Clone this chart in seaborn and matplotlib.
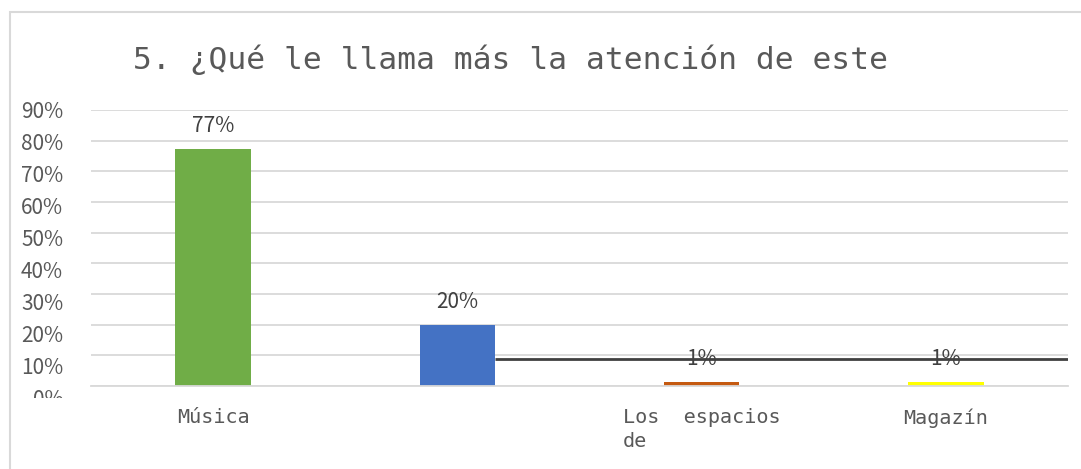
import matplotlib
matplotlib.use("Agg")
import matplotlib.pyplot as plt
from matplotlib import font_manager
from matplotlib.patches import Rectangle
import seaborn as sns
import pandas as pd

# ---- data ----
categories = ["Música", "Opción 2", "Los espacios de entretenimiento", "Magazín"]
tick_labels = ["Música", "", "Los  espacios\nde", "Magazín"]
values = [0.773, 0.20, 0.013, 0.013]
value_labels = ["77%", "20%", "1%", "1%"]
colors = ["#70AD47", "#4472C4", "#C55A11", "#FFFF00"]
y_ticks = [0.0, 0.1, 0.2, 0.3, 0.4, 0.5, 0.6, 0.7, 0.8, 0.9]
y_tick_labels = ["0%", "10%", "20%", "30%", "40%", "50%", "60%", "70%", "80%", "90%"]
title = "5. ¿Qué le llama más la atención de este"
ref_line_y = 0.088

sns.set_style("white")
names = {f.name for f in font_manager.fontManager.ttflist}
mono = [n for n in ["Noto Sans Mono CJK JP", "DejaVu Sans Mono"] if n in names]
plt.rcParams["font.family"] = ["Noto Sans CJK JP", "DejaVu Sans"]

W, H = 1081, 469
fig = plt.figure(figsize=(W / 100, H / 100), dpi=100)
ax = fig.add_axes([91 / W, 1 - 386 / H, (1068 - 91) / W, (386 - 110) / H])

df = pd.DataFrame({"cat": categories, "val": values})
bw = 0.31
sns.barplot(data=df, x="cat", y="val", hue="cat", palette=colors, width=bw,
            saturation=1, legend=False, ax=ax, zorder=2, linewidth=0)

ax.set_xlim(-0.5, len(categories) - 0.5)
ax.set_ylim(0, 0.9)
ax.set_yticks(y_ticks)
ax.set_yticklabels([])
ax.set_xticks(range(len(categories)))
ax.set_xticklabels(tick_labels, fontsize=14.5, color="#595959",
                   family=mono + ["DejaVu Sans"], linespacing=1.3,
                   va="top", multialignment="left")
ax.tick_params(axis="y", length=0)
ax.tick_params(axis="x", length=0, pad=16)
ax.set_xlabel("")
ax.set_ylabel("")
ax.yaxis.grid(True, color="#D9D9D9", lw=1.3)
ax.set_axisbelow(True)
for s in ["top", "right", "left"]:
    ax.spines[s].set_visible(False)
ax.spines["bottom"].set_color("#D9D9D9")
ax.spines["bottom"].set_linewidth(1.3)

# y labels: in the original they drift slightly downward relative to gridlines
for k, (v, lab) in enumerate(zip(y_ticks, y_tick_labels)):
    drift = (14 - 1.33 * k) * 0.72
    ax.annotate(lab, xy=(0, v), xycoords=("axes fraction", "data"),
                xytext=(-20, -drift), textcoords="offset points",
                ha="right", va="center", fontsize=15, color="#595959",
                annotation_clip=False)

for i, (v, lab) in enumerate(zip(values, value_labels)):
    ax.annotate(lab, (i, v), xytext=(0, 16.5), textcoords="offset points",
                ha="center", va="center", fontsize=15, color="#404040", zorder=4)

ax.hlines(ref_line_y, 1 + bw / 2, len(categories) - 0.5, color="#404040", lw=2, zorder=3)

# chart border
fig.add_artist(Rectangle((10 / W, -0.05), 1.2, 0.05 + 1 - 12 / H, transform=fig.transFigure,
                         fill=False, edgecolor="#D9D9D9", lw=1.5))
# clip the bottom of the y labels like the original
fig.add_artist(Rectangle((13 / W, 0), 75 / W, (H - 398) / H, transform=fig.transFigure,
                         facecolor="white", edgecolor="none", zorder=10))

fig.text(133 / W, 1 - 60 / H, title, ha="left", va="center", fontsize=22.5,
         color="#595959", family=mono + ["DejaVu Sans"])

fig.savefig("out.png", dpi=100)
